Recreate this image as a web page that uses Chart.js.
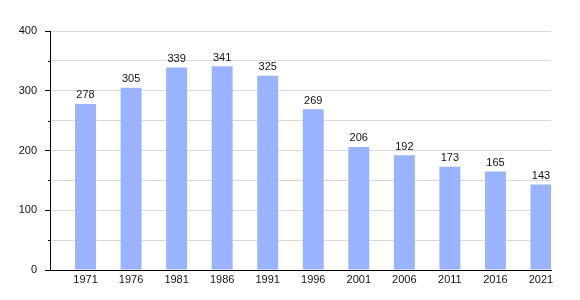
<!DOCTYPE html>
<html>
<head>
<meta charset="utf-8">
<script src="https://cdn.jsdelivr.net/npm/chart.js@4/dist/chart.umd.min.js"></script>
<style>
  html, body { margin: 0; padding: 0; background: #fff; }
  #wrap { width: 580px; height: 300px; }
</style>
</head>
<body>
<div id="wrap"><canvas id="chart"></canvas></div>
<script>
const YEARS = ['1971', '1976', '1981', '1986', '1991', '1996', '2001', '2006', '2011', '2016', '2021'];
const POPULATION = [278, 305, 339, 341, 325, 269, 206, 192, 173, 165, 143];
const Y_MAX = 400;
const BAR_COLOR = '#99b3ff';
const FONT = "'Liberation Sans', Arial, sans-serif";

// value labels on top of each bar
const valueLabels = {
  id: 'valueLabels',
  afterDatasetsDraw(chart) {
    const ctx = chart.ctx;
    const meta = chart.getDatasetMeta(0);
    ctx.save();
    ctx.font = '11px ' + FONT;
    ctx.fillStyle = '#111';
    ctx.textAlign = 'center';
    ctx.textBaseline = 'bottom';
    meta.data.forEach((bar, i) => {
      ctx.fillText(String(POPULATION[i]), bar.x, bar.y - 3);
    });
    ctx.restore();
  }
};

// short minor ticks at the in-between gridlines
const minorTicks = {
  id: 'minorTicks',
  afterDraw(chart) {
    const y = chart.scales.y;
    const ctx = chart.ctx;
    ctx.save();
    ctx.strokeStyle = '#000';
    ctx.lineWidth = 1;
    y.ticks.forEach(t => {
      if (t.value % 100 === 0) return;
      const py = Math.round(y.getPixelForValue(t.value)) + 0.5;
      ctx.beginPath();
      ctx.moveTo(y.right - 2, py);
      ctx.lineTo(y.right, py);
      ctx.stroke();
    });
    ctx.restore();
  }
};

new Chart(document.getElementById('chart'), {
  type: 'bar',
  data: {
    datasets: [{
      data: POPULATION.map((v, i) => ({ x: i, y: v })),
      backgroundColor: BAR_COLOR,
      borderWidth: 0,
      barPercentage: 0.46,
      categoryPercentage: 1,
    }]
  },
  options: {
    responsive: true, maintainAspectRatio: false, animation: false,
    layout: { padding: { top: 31, right: 29, left: 0, bottom: 0 } },
    plugins: { legend: { display: false }, tooltip: { enabled: false } },
    scales: {
      x: {
        type: 'linear',
        offset: false,
        min: -0.78, max: 10.22,
        afterBuildTicks: s => { s.ticks = YEARS.map((_, i) => ({ value: i })); },
        afterFit: s => { s.height = 30; },
        ticks: {
          autoSkip: false, maxRotation: 0, padding: 3,
          color: '#111', font: { family: FONT, size: 11 },
          callback: v => YEARS[v] ?? ''
        },
        grid: { display: false, drawTicks: false, tickLength: 0 },
        border: { display: true, color: '#000', width: 1 }
      },
      y: {
        min: 0, max: Y_MAX,
        afterFit: s => { s.width = 50; },
        ticks: {
          stepSize: 50, padding: 8,
          color: '#111', font: { family: FONT, size: 11 },
          callback: v => (v % 100 === 0 ? v : '')
        },
        grid: {
          color: ctx => (ctx.tick && ctx.tick.value === 0 ? 'rgba(0,0,0,0)' : '#d9d9d9'),
          tickColor: ctx => (ctx.tick && ctx.tick.value % 100 === 0 ? '#000' : 'rgba(0,0,0,0)'),
          tickLength: 5,
          drawTicks: true
        },
        border: { display: true, color: '#000', width: 1 }
      }
    }
  },
  plugins: [valueLabels, minorTicks]
});
</script>
</body>
</html>
